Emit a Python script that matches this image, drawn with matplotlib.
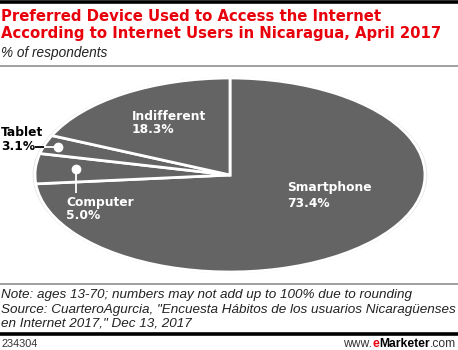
import matplotlib
matplotlib.use("Agg")
import matplotlib.pyplot as plt
from matplotlib.lines import Line2D

W, H = 458, 350
DPI = 100

categories = ["Smartphone", "Computer", "Tablet", "Indifferent"]
shares = [73.4, 5.0, 3.1, 18.3]
value_labels = ["73.4%", "5.0%", "3.1%", "18.3%"]

title_lines = ["Preferred Device Used to Access the Internet",
               "According to Internet Users in Nicaragua, April 2017"]
subtitle = "% of respondents"
note_lines = ["Note: ages 13-70; numbers may not add up to 100% due to rounding",
              "Source: CuarteroAgurcia, \"Encuesta Hábitos de los usuarios Nicaragüenses",
              "en Internet 2017,\" Dec 13, 2017"]
chart_id = "234304"

RED = "#e8000b"
PIE = "#646464"

fig = plt.figure(figsize=(W / DPI, H / DPI), dpi=DPI)
fig.patch.set_facecolor("white")


def fx(px):
    return px / W


def fy(py):
    return 1 - py / H


def hline(py, x0, x1, color, lw):
    fig.add_artist(Line2D([fx(x0), fx(x1)], [fy(py), fy(py)], color=color,
                          lw=lw, transform=fig.transFigure, solid_capstyle="butt"))


# header
hline(2, 0, W, "black", 2.6)
for i, line in enumerate(title_lines):
    fig.text(fx(1), fy(21 + 17 * i), line, color=RED, fontsize=10.75,
             fontweight="bold", family="DejaVu Sans", va="baseline", ha="left")
fig.text(fx(1), fy(57), subtitle, fontsize=9.8, style="italic",
         family="Liberation Sans", va="baseline", ha="left", color="#222222")
hline(66, 0, W, "#999999", 1.3)

# pie, squashed into an ellipse
cx, cy, a, b = 230, 175, 195, 97
ax = fig.add_axes([fx(cx - a), (H - cy - b) / H, 2 * a / W, 2 * b / H])
# faint rim around the disc
ax.pie([1], radius=1.012, colors=["#e6e6e6"], wedgeprops=dict(linewidth=0))
ax.pie(shares, startangle=90, counterclock=False, radius=1.0,
       colors=[PIE] * len(shares),
       wedgeprops=dict(edgecolor="white", linewidth=2.0))
ax.set_aspect("auto")
ax.set_xlim(-1.02, 1.02)
ax.set_ylim(-1.02, 1.02)
ax.axis("off")
# keep the disc itself at the intended pixel size
ax.set_position([fx(cx - a * 1.02), (H - cy - b * 1.02) / H,
                 2 * a * 1.02 / W, 2 * b * 1.02 / H])


def dx(px):
    return (px - cx) / a


def dy(py):
    return (cy - py) / b


lab_kw = dict(fontsize=8.8, fontweight="bold", family="DejaVu Sans",
              va="baseline", ha="left", linespacing=1.0)

# labels inside the pie
ax.text(dx(287), dy(191), categories[0], color="white", **lab_kw)
ax.text(dx(287), dy(207), value_labels[0], color="white", **lab_kw)
ax.text(dx(132), dy(120), categories[3], color="white", **lab_kw)
ax.text(dx(132), dy(133), value_labels[3], color="white", **lab_kw)
ax.text(dx(66), dy(206), categories[1], color="white", **lab_kw)
ax.text(dx(66), dy(219), value_labels[1], color="white", **lab_kw)

# computer leader
ax.plot([dx(76), dx(76)], [dy(169), dy(193)], color="white", lw=1.3,
        solid_capstyle="butt")
ax.plot([dx(76)], [dy(169)], "o", color="white", ms=6)

# tablet label outside the pie with leader
fig.text(fx(1), fy(136), categories[2], color="black", fontsize=8.8,
         fontweight="bold", family="DejaVu Sans", va="baseline", ha="left")
fig.text(fx(1), fy(150), value_labels[2], color="black", fontsize=8.8,
         fontweight="bold", family="DejaVu Sans", va="baseline", ha="left")
hline(147, 35, 44, "black", 1.3)
ax.plot([dx(44), dx(58)], [dy(147), dy(147)], color="white", lw=1.3,
        solid_capstyle="butt", clip_on=False)
ax.plot([dx(58)], [dy(147)], "o", color="white", ms=6)

# footer
hline(284, 0, W, "#999999", 1.3)
for i, line in enumerate(note_lines):
    fig.text(fx(1), fy(298 + 14.5 * i), line, fontsize=9.7, style="italic",
             family="Liberation Sans", va="baseline", ha="left", color="#222222")
hline(334, 0, W, "black", 2.6)
fig.text(fx(1), fy(347), chart_id, fontsize=7.8, family="Liberation Sans",
         va="baseline", ha="left", color="#333333")

# site mark, right aligned
r = fig.canvas.get_renderer()
parts = [("www.", "normal", "#333333"), ("e", "bold", RED),
         ("Marketer", "bold", "black"), (".com", "normal", "#333333")]
texts = []
for s, wt, col in parts:
    t = fig.text(0, fy(347), s, fontsize=8.7, fontweight=wt, color=col,
                 family="Liberation Sans", va="baseline", ha="left")
    texts.append(t)
widths = [t.get_window_extent(renderer=r).width for t in texts]
xpos = 456 - sum(widths)
for t, w in zip(texts, widths):
    t.set_x(fx(xpos))
    xpos += w

fig.savefig("out.png", dpi=DPI, facecolor="white")
